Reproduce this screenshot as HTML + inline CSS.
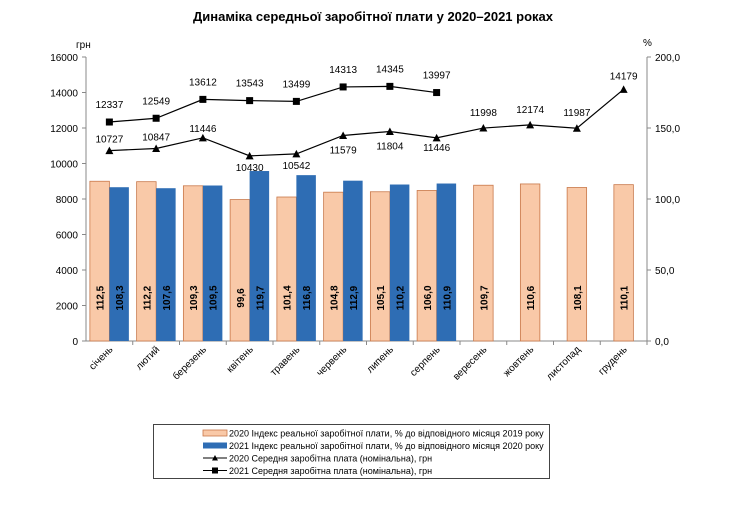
<!DOCTYPE html>
<html><head><meta charset="utf-8"><style>
body{margin:0;background:#fff;}
svg{font-family:"Liberation Sans",sans-serif;}
</style></head><body>
<svg id="s" width="747" height="505" xmlns="http://www.w3.org/2000/svg"></svg>
<script>
(function(){
var s=document.getElementById('s'),h='';
h+='<text x="373" y="21" text-anchor="middle" font-size="13" font-weight="bold">Динаміка середньої заробітної плати у 2020–2021 роках</text>';
var y0=341,yt=57,L=86,R=647,cw=(R-L)/12;
function yv(v){return y0-v*0.01775;}
function yp(p){return y0-p*1.42;}
h+='<line x1="'+L+'" y1="'+yt+'" x2="'+L+'" y2="'+y0+'" stroke="#888"/>';
h+='<line x1="'+R+'" y1="'+yt+'" x2="'+R+'" y2="'+y0+'" stroke="#888"/>';
h+='<line x1="'+L+'" y1="'+y0+'" x2="'+R+'" y2="'+y0+'" stroke="#888"/>';
for(var i=0;i<=8;i++){var y=yv(i*2000);h+='<line x1="'+(L-4)+'" y1="'+y+'" x2="'+L+'" y2="'+y+'" stroke="#888"/><text x="'+(L-8)+'" y="'+(y+4)+'" text-anchor="end" font-size="10">'+(i*2000)+'</text>';}
for(var i=0;i<=4;i++){var y=yp(i*50);h+='<line x1="'+R+'" y1="'+y+'" x2="'+(R+4)+'" y2="'+y+'" stroke="#888"/><text x="'+(R+8)+'" y="'+(y+4)+'" font-size="10">'+(i*50)+',0</text>';}
h+='<text x="76" y="48" font-size="10">грн</text><text x="643" y="46" font-size="10">%</text>';
var months=['січень','лютий','березень','квітень','травень','червень','липень','серпень','вересень','жовтень','листопад','грудень'];
var p20=[112.5,112.2,109.3,99.6,101.4,104.8,105.1,106.0,109.7,110.6,108.1,110.1];
var p21=[108.3,107.6,109.5,119.7,116.8,112.9,110.2,110.9];
var w20=[10727,10847,11446,10430,10542,11579,11804,11446,11998,12174,11987,14179];
var o20=[-8,-8,-6,15,15,18,18,13,-12,-12,-12,-10];
var w21=[12337,12549,13612,13543,13499,14313,14345,13997];
var bw=19.5;
for(var i=0;i<12;i++){
 var c=L+cw*(i+0.5);
 var xo=i<8?c-bw:c-bw/2;
 var y=yp(p20[i]);
 h+='<rect x="'+xo+'" y="'+y+'" width="'+bw+'" height="'+(y0-y)+'" fill="#f9c9a8" stroke="#c8784a" stroke-width="0.8"/>';
 h+='<text transform="translate('+(xo+bw/2+4)+',298) rotate(-90)" text-anchor="middle" font-size="10" font-weight="bold">'+p20[i].toFixed(1).replace('.',',')+'</text>';
 if(i<8){var y2=yp(p21[i]);
 h+='<rect x="'+c+'" y="'+y2+'" width="'+bw+'" height="'+(y0-y2)+'" fill="#2e6db4"/>';
 h+='<text transform="translate('+(c+bw/2+4)+',298) rotate(-90)" text-anchor="middle" font-size="10" font-weight="bold">'+p21[i].toFixed(1).replace('.',',')+'</text>';}
 h+='<line x1="'+(L+cw*(i+1))+'" y1="'+y0+'" x2="'+(L+cw*(i+1))+'" y2="'+(y0+4)+'" stroke="#888"/>';
 h+='<text transform="translate('+(c+4)+',350) rotate(-45)" text-anchor="end" font-size="10">'+months[i]+'</text>';
}
var pts='';for(var i=0;i<12;i++){pts+=(L+cw*(i+0.5))+','+yv(w20[i])+' ';}
h+='<polyline points="'+pts+'" fill="none" stroke="#000" stroke-width="1.2"/>';
for(var i=0;i<12;i++){var c=L+cw*(i+0.5),y=yv(w20[i]);
 h+='<polygon points="'+(c-4)+','+(y+3.5)+' '+(c+4)+','+(y+3.5)+' '+c+','+(y-4)+'" fill="#000"/>';
 h+='<text x="'+c+'" y="'+(y+o20[i])+'" text-anchor="middle" font-size="10">'+w20[i]+'</text>';}
pts='';for(var i=0;i<8;i++){pts+=(L+cw*(i+0.5))+','+yv(w21[i])+' ';}
h+='<polyline points="'+pts+'" fill="none" stroke="#000" stroke-width="1.2"/>';
for(var i=0;i<8;i++){var c=L+cw*(i+0.5),y=yv(w21[i]);
 h+='<rect x="'+(c-3.5)+'" y="'+(y-3.5)+'" width="7" height="7" fill="#000"/>';
 h+='<text x="'+c+'" y="'+(y-14)+'" text-anchor="middle" font-size="10">'+w21[i]+'</text>';}
h+='<rect x="153.5" y="424.5" width="396" height="54" fill="none" stroke="#444"/>';
var lt=['2020 Індекс реальної заробітної плати, % до відповідного місяця 2019 року','2021 Індекс реальної заробітної плати, % до відповідного місяця 2020 року','2020 Середня заробітна плата (номінальна), грн','2021 Середня заробітна плата (номінальна), грн'];
for(var k=0;k<4;k++){var y=433+k*12.5;
 if(k==0)h+='<rect x="203" y="'+(y-3)+'" width="24" height="6" fill="#f9c9a8" stroke="#c8784a" stroke-width="0.8"/>';
 if(k==1)h+='<rect x="203" y="'+(y-3)+'" width="24" height="6" fill="#2e6db4"/>';
 if(k>=2){h+='<line x1="203" y1="'+y+'" x2="227" y2="'+y+'" stroke="#000"/>';
  if(k==2)h+='<polygon points="212,'+(y+2.5)+' 218,'+(y+2.5)+' 215,'+(y-3)+'"/>';else h+='<rect x="212" y="'+(y-3)+'" width="6" height="6"/>';}
 h+='<text x="229" y="'+(y+3.5)+'" font-size="9">'+lt[k]+'</text>';}
s.innerHTML=h;
})();
</script>
</body></html>
